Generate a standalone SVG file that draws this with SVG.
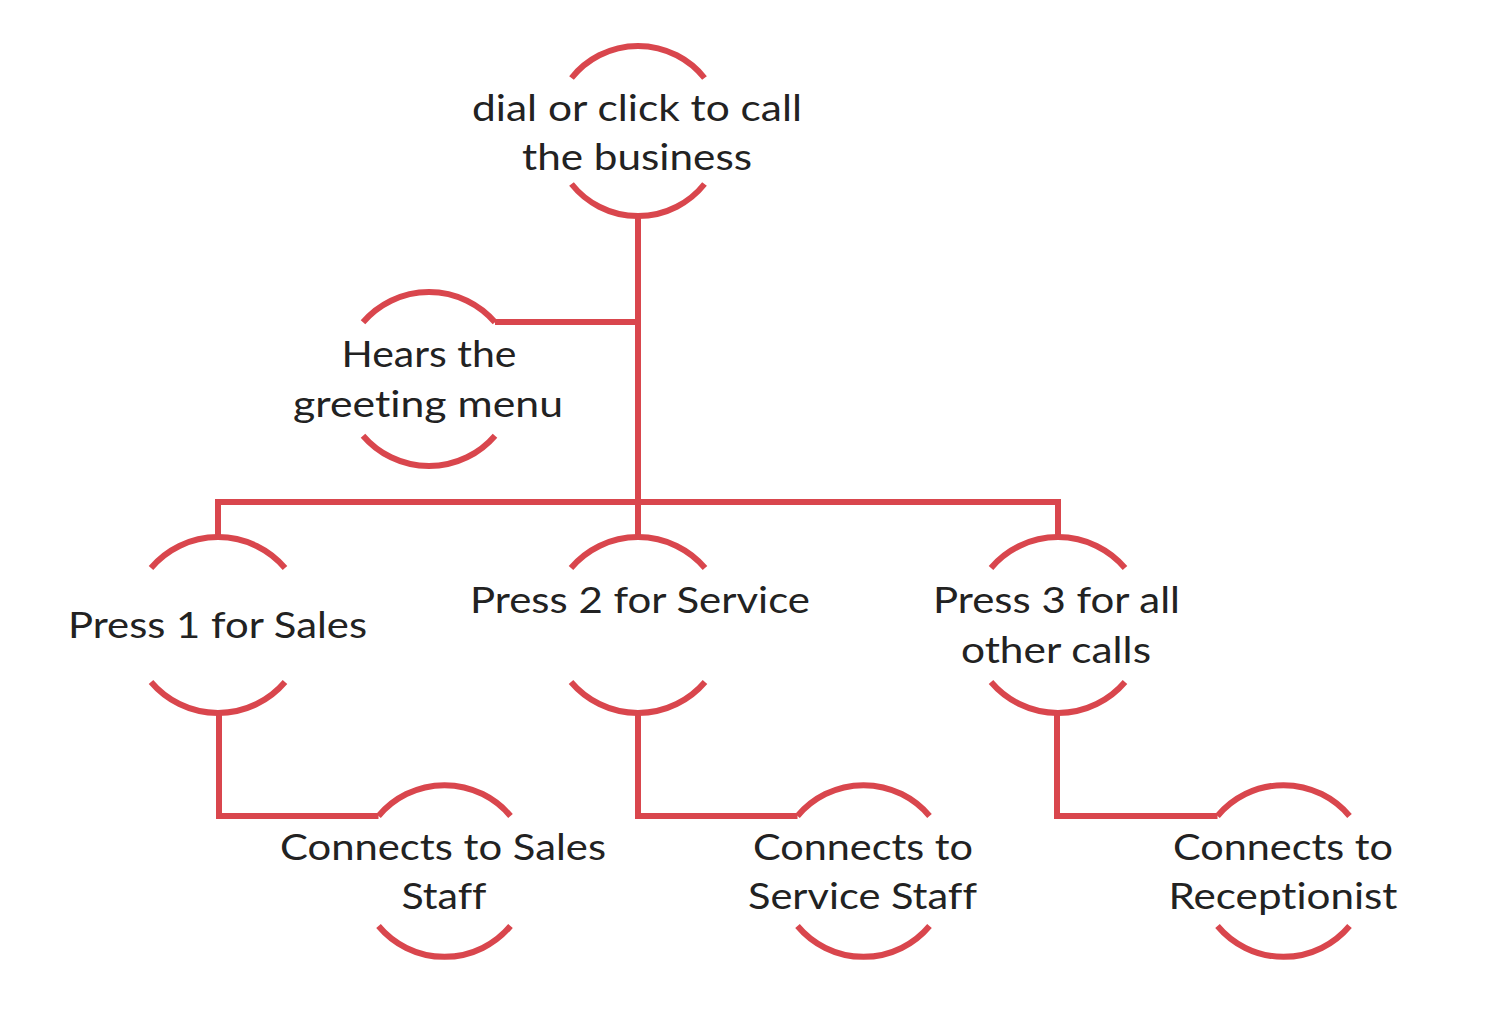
<svg xmlns="http://www.w3.org/2000/svg" width="1500" height="1013" viewBox="0 0 1500 1013">
<style>
.arc{fill:none;stroke:#d9464d;stroke-width:6;stroke-linecap:butt}
.conn{fill:none;stroke:#d9464d;stroke-width:6;stroke-linejoin:miter}
text{font-family:Lato,"Open Sans","Liberation Sans",sans-serif;font-size:36px;fill:#222;text-anchor:middle;font-variant-ligatures:none;font-feature-settings:"liga" 0,"clig" 0}
</style>
<rect width="1500" height="1013" fill="#fff"/>
<g id="connectors">
<path class="conn" d="M638,216 V502"/>
<path class="conn" d="M495,322 H638"/>
<path class="conn" d="M218,537 V502 H1058 V537"/>
<path class="conn" d="M638,502 V537"/>
<path class="conn" d="M219,713 V816 H378.5"/>
<path class="conn" d="M638,713 V816 H797.5"/>
<path class="conn" d="M1057,713 V816 H1217.5"/>
</g>
<g id="node-dial">
<path class="arc" d="M571.5,78 A85,85 0 0 1 704.5,78"/>
<path class="arc" d="M571.5,184 A85,85 0 0 0 704.5,184"/>
<text x="637" y="121" textLength="330" lengthAdjust="spacingAndGlyphs">dial or click to call</text>
<text x="637" y="170" textLength="230" lengthAdjust="spacingAndGlyphs">the business</text>
</g>
<g id="node-hears">
<path class="arc" d="M363,322.3 A87,87 0 0 1 495,322.3"/>
<path class="arc" d="M363,435.7 A87,87 0 0 0 495,435.7"/>
<text x="429" y="367" textLength="175" lengthAdjust="spacingAndGlyphs">Hears the</text>
<text x="428" y="417" textLength="270" lengthAdjust="spacingAndGlyphs">greeting menu</text>
</g>
<g id="node-press1">
<path class="arc" d="M151,568 A88,88 0 0 1 285,568"/>
<path class="arc" d="M151,682 A88,88 0 0 0 285,682"/>
<text x="217.5" y="638" textLength="299" lengthAdjust="spacingAndGlyphs">Press 1 for Sales</text>
</g>
<g id="node-press2">
<path class="arc" d="M571,568 A88,88 0 0 1 705,568"/>
<path class="arc" d="M571,682 A88,88 0 0 0 705,682"/>
<text x="640" y="613" textLength="340" lengthAdjust="spacingAndGlyphs">Press 2 for Service</text>
</g>
<g id="node-press3">
<path class="arc" d="M991,568 A88,88 0 0 1 1125,568"/>
<path class="arc" d="M991,682 A88,88 0 0 0 1125,682"/>
<text x="1056.5" y="613" textLength="247" lengthAdjust="spacingAndGlyphs">Press 3 for all</text>
<text x="1056" y="663" textLength="190" lengthAdjust="spacingAndGlyphs">other calls</text>
</g>
<g id="node-sales-staff">
<path class="arc" d="M378.5,816 A86,86 0 0 1 510.5,816"/>
<path class="arc" d="M378.5,926 A86,86 0 0 0 510.5,926"/>
<text x="443" y="860" textLength="326" lengthAdjust="spacingAndGlyphs">Connects to Sales</text>
<text x="444" y="909" textLength="85" lengthAdjust="spacingAndGlyphs">Staff</text>
</g>
<g id="node-service-staff">
<path class="arc" d="M797.5,816 A86,86 0 0 1 929.5,816"/>
<path class="arc" d="M797.5,926 A86,86 0 0 0 929.5,926"/>
<text x="863" y="860" textLength="220" lengthAdjust="spacingAndGlyphs">Connects to</text>
<text x="862.5" y="909" textLength="229" lengthAdjust="spacingAndGlyphs">Service Staff</text>
</g>
<g id="node-receptionist">
<path class="arc" d="M1217.5,816 A86,86 0 0 1 1349.5,816"/>
<path class="arc" d="M1217.5,926 A86,86 0 0 0 1349.5,926"/>
<text x="1283" y="860" textLength="220" lengthAdjust="spacingAndGlyphs">Connects to</text>
<text x="1283" y="909" textLength="229" lengthAdjust="spacingAndGlyphs">Receptionist</text>
</g>
</svg>
